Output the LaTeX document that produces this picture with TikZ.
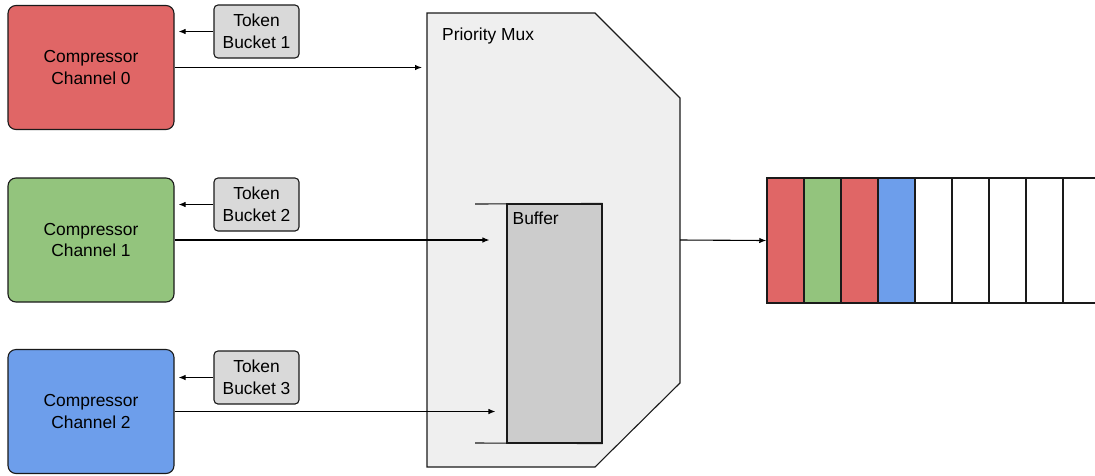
\documentclass[tikz,border=0pt]{standalone}
\usepackage{fontspec}
\setmainfont{Liberation Sans}
\usetikzlibrary{arrows.meta}
\definecolor{chred}{HTML}{E06666}
\definecolor{chgreen}{HTML}{93C47D}
\definecolor{chblue}{HTML}{6D9EEB}
\definecolor{muxgray}{HTML}{EFEFEF}
\definecolor{tokgray}{HTML}{D9D9D9}
\definecolor{bufgray}{HTML}{CCCCCC}
\definecolor{edge}{HTML}{1A1A1A}
\begin{document}
\begin{tikzpicture}[x=1pt,y=-1pt,
  font=\fontsize{17.4}{21.5}\selectfont,
  comp/.style={draw=edge, line width=1.1pt, rounded corners=8pt, minimum width=166pt,
    minimum height=124pt, align=center, inner sep=0pt},
  bucket/.style={draw=edge, line width=1.1pt, rounded corners=4pt, fill=tokgray,
    minimum width=85pt, minimum height=53pt, align=center, inner sep=0pt},
  bufbox/.style={draw=edge, line width=1.1pt, fill=bufgray, minimum width=95pt,
    minimum height=239pt, inner sep=0pt},
  cell/.style={draw=edge, line width=1.5pt, minimum width=37pt, minimum height=125pt,
    inner sep=0pt},
  arr/.style={-{Latex[length=7pt,width=5.5pt]}, line width=1.1pt, draw=black},
  outline/.style={draw=edge, line width=1.1pt},
  lbl/.style={anchor=west, inner sep=0pt}]

\clip (0,0) rectangle (1095,475);

% compressor channels
\node[comp, fill=chred]   (c0) at (91,67.5)  {Compressor\\Channel 0};
\node[comp, fill=chgreen] (c1) at (91,240)   {Compressor\\Channel 1};
\node[comp, fill=chblue]  (c2) at (91,411.5) {Compressor\\Channel 2};

% token buckets
\node[bucket] (b0) at (256.5,31.5)  {Token\\Bucket 1};
\node[bucket] (b1) at (256.5,204.5) {Token\\Bucket 2};
\node[bucket] (b2) at (256.5,377.5) {Token\\Bucket 3};

% priority mux body
\draw[outline, fill=muxgray]
  (427,13) -- (595,13) -- (680,98) -- (680,383) -- (595,467) -- (427,467) -- cycle;
\coordinate (muxL) at (427,68);
\coordinate (muxR) at (680,240);
\node[lbl] (muxlbl) at (442,36) {Priority Mux};

% buffer inside the mux
\node[bufbox] (buf) at (554.5,323.5) {};
\draw[outline] (buf.north east) -- (475,204);
\draw[outline] (buf.south east) -- (475,443);
\node[lbl, anchor=north west] (buflbl) at ([xshift=6pt,yshift=-8pt]buf.north west) {Buffer};

% output queue
\foreach \i/\c in {0/chred,1/chgreen,2/chred,3/chblue,4/white,5/white,6/white,7/white,8/white}{
  \node[cell, fill=\c] (q\i) at ({785.5+37*\i},240.5) {};
}

% connectors
\draw[arr, shorten >=4pt] (b0.west) -- (b0.west -| c0.east);
\draw[arr, shorten >=4pt] (b1.west) -- (b1.west -| c1.east);
\draw[arr, shorten >=4pt] (b2.west) -- (b2.west -| c2.east);

\draw[arr, shorten >=5pt]  (c0.east) -- (c0.east -| muxL);
\draw[arr, shorten >=17pt] (c1.east) -- (c1.east -| buf.west);
\draw[arr, shorten >=11pt] (c2.east) -- (c2.east -| buf.west);

\draw[arr] (muxR) -- (q0.west);
\end{tikzpicture}
\end{document}
